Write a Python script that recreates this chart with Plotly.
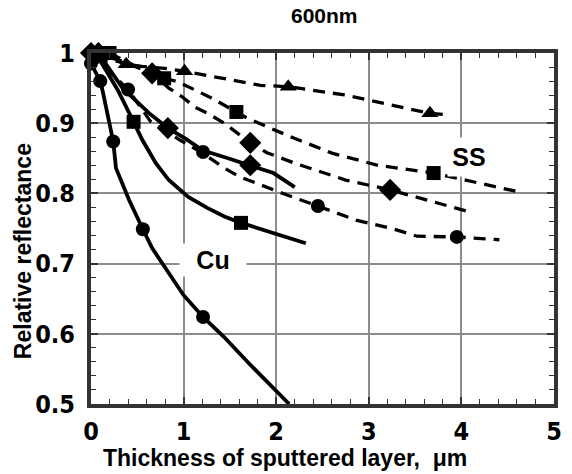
import plotly.graph_objects as go

# ---- data (thickness in um, relative reflectance) ----
cu_circ_line_x = [0, 0.10, 0.124, 0.24, 0.27, 0.41, 0.56, 0.66, 1.0, 1.21, 1.44, 1.72, 2.14]
cu_circ_line_y = [0.985, 0.96, 0.947, 0.874, 0.836, 0.791, 0.749, 0.722, 0.655, 0.624, 0.595, 0.556, 0.5]
cu_circ_mark_x = [0, 0.10, 0.24, 0.56, 1.21]
cu_circ_mark_y = [0.985, 0.96, 0.874, 0.749, 0.624]

cu_sq_line_x = [0.05, 0.29, 0.46, 0.555, 0.70, 0.84, 1.05, 1.26, 1.44, 1.62, 2.32]
cu_sq_line_y = [1.0, 0.947, 0.902, 0.876, 0.843, 0.819, 0.795, 0.779, 0.767, 0.758, 0.729]
cu_sq_mark_x = [0.05, 0.46, 1.62]
cu_sq_mark_y = [1.0, 0.902, 0.758]

cu_dia_line_x = [0.08, 0.34, 0.63, 0.83, 1.02, 1.21, 1.48, 1.72, 1.97, 2.2]
cu_dia_line_y = [1.0, 0.95, 0.914, 0.893, 0.878, 0.861, 0.85, 0.84, 0.829, 0.809]
cu_dia_mark_x = [0.08, 0.83, 1.72]
cu_dia_mark_y = [1.0, 0.893, 0.84]

ss_tri_line_x = [0.05, 0.29, 0.38, 0.55, 0.8, 1.01, 1.25, 1.83, 2.13, 2.75, 3.17, 3.66, 3.85]
ss_tri_line_y = [0.99, 0.988, 0.984, 0.981, 0.978, 0.974, 0.968, 0.954, 0.952, 0.94, 0.928, 0.914, 0.912]
ss_tri_mark_x = [0.38, 1.01, 2.13, 3.66]
ss_tri_mark_y = [0.984, 0.974, 0.952, 0.914]

ss_sq_line_x = [0.2, 0.5, 0.79, 0.94, 1.3, 1.57, 1.69, 2.15, 2.61, 3.1, 3.70, 4.59]
ss_sq_line_y = [1.0, 0.98, 0.964, 0.959, 0.936, 0.916, 0.907, 0.881, 0.857, 0.840, 0.829, 0.803]
ss_sq_mark_x = [0.2, 0.79, 1.57, 3.70]
ss_sq_mark_y = [1.0, 0.964, 0.916, 0.829]

ss_dia_line_x = [0, 0.3, 0.66, 0.84, 0.98, 1.12, 1.26, 1.44, 1.61, 1.72, 1.9, 2.2, 2.75, 3.23, 4.08]
ss_dia_line_y = [1.0, 0.99, 0.971, 0.95, 0.938, 0.923, 0.914, 0.90, 0.883, 0.872, 0.858, 0.843, 0.819, 0.805, 0.774]
ss_dia_mark_x = [0, 0.66, 1.72, 3.23]
ss_dia_mark_y = [1.0, 0.971, 0.872, 0.805]

ss_circ_line_x = [0, 0.40, 0.64, 0.96, 1.21, 1.44, 1.6, 1.79, 2.11, 2.45, 2.86, 3.25, 3.52, 3.95, 4.41]
ss_circ_line_y = [1.0, 0.948, 0.903, 0.876, 0.857, 0.836, 0.824, 0.814, 0.798, 0.782, 0.762, 0.75, 0.739, 0.738, 0.734]
ss_circ_mark_x = [0.40, 1.21, 2.45, 3.95]
ss_circ_mark_y = [0.948, 0.859, 0.782, 0.738]

x_ticks = [0, 1, 2, 3, 4, 5]
y_ticks = [0.5, 0.6, 0.7, 0.8, 0.9, 1.0]
y_tick_text = ["0.5", "0.6", "0.7", "0.8", "0.9", "1"]

BOLD = "Liberation Sans"
NARROW = "Liberation Sans Narrow, Arial Narrow, DejaVu Sans Condensed, Liberation Sans"

fig = go.Figure()

def add_series(lx, ly, mx, my, symbol, size, dashed):
    fig.add_trace(go.Scatter(
        x=lx, y=ly, mode="lines",
        line=dict(color="black", width=3.3 if dashed else 3.8,
                  dash="12px,8px" if dashed else "solid"),
        cliponaxis=False, hoverinfo="skip", showlegend=False))
    fig.add_trace(go.Scatter(
        x=mx, y=my, mode="markers",
        marker=dict(symbol=symbol, size=size, color="black"),
        cliponaxis=False, showlegend=False))

add_series(ss_tri_line_x, ss_tri_line_y, ss_tri_mark_x, ss_tri_mark_y, "triangle-up", 15, True)
add_series(ss_sq_line_x, ss_sq_line_y, ss_sq_mark_x, ss_sq_mark_y, "square", 14, True)
add_series(ss_dia_line_x, ss_dia_line_y, ss_dia_mark_x, ss_dia_mark_y, "diamond", 17, True)
add_series(ss_circ_line_x, ss_circ_line_y, ss_circ_mark_x, ss_circ_mark_y, "circle", 14, True)
add_series(cu_dia_line_x, cu_dia_line_y, cu_dia_mark_x, cu_dia_mark_y, "diamond", 17, False)
add_series(cu_sq_line_x, cu_sq_line_y, cu_sq_mark_x, cu_sq_mark_y, "square", 14, False)
add_series(cu_circ_line_x, cu_circ_line_y, cu_circ_mark_x, cu_circ_mark_y, "circle", 14, False)

axis_common = dict(
    showline=True, linewidth=4, linecolor="#333333", mirror="allticks",
    ticks="inside", ticklen=7, tickwidth=1.5, tickcolor="#333333",
    showgrid=True, gridcolor="#8c8c8c", gridwidth=1.5, zeroline=False,
    tickfont=dict(family=NARROW, size=25, color="black", weight="bold"),
)

fig.update_xaxes(range=[0, 5], tickvals=x_ticks, ticklabelstandoff=2,
                 minor=dict(dtick=0.2, ticks="inside", ticklen=5, tickwidth=1.2,
                            tickcolor="#333333", showgrid=False),
                 **axis_common)
fig.update_yaxes(range=[0.5, 1.0], tickvals=y_ticks, ticktext=y_tick_text,
                 ticklabelstandoff=7,
                 minor=dict(dtick=0.02, ticks="inside", ticklen=5, tickwidth=1.2,
                            tickcolor="#333333", showgrid=False),
                 **axis_common)

fig.update_layout(
    width=572, height=474,
    margin=dict(l=91, r=10, t=53, b=70),
    paper_bgcolor="white", plot_bgcolor="white",
    annotations=[
        dict(text="600nm", xref="paper", yref="paper", x=0.505, y=1.108,
             xanchor="center", yanchor="middle",
             showarrow=False, font=dict(family=BOLD, size=21, color="black", weight="bold")),
        dict(text="Thickness of sputtered layer,  \u03bcm", xref="paper", yref="paper",
             x=0.418, y=-0.154, xanchor="center", yanchor="middle", showarrow=False,
             font=dict(family=BOLD, size=23, color="black", weight="bold")),
        dict(text="Relative reflectance", xref="paper", yref="paper",
             x=-0.1465, y=0.436, xanchor="center", yanchor="middle",
             textangle=-90, showarrow=False,
             font=dict(family=BOLD, size=23, color="black", weight="bold")),
        dict(text="SS", x=4.08, y=0.852, xref="x", yref="y", showarrow=False,
             xanchor="center", yanchor="middle",
             bgcolor="white", width=40, height=36,
             font=dict(family=BOLD, size=25, color="black", weight="bold")),
        dict(text="Cu", x=1.32, y=0.705, xref="x", yref="y", showarrow=False,
             xanchor="center", yanchor="middle",
             bgcolor="white", width=64, height=30,
             font=dict(family=BOLD, size=25, color="black", weight="bold")),
    ],
)

fig.write_html("out.html")
